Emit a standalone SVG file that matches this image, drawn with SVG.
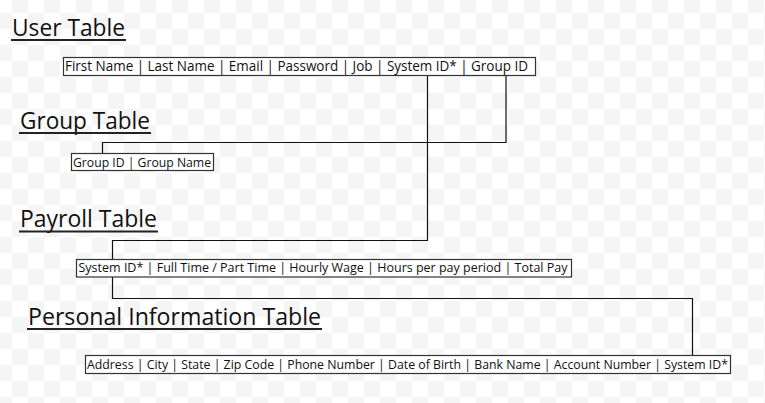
<svg xmlns="http://www.w3.org/2000/svg" width="765" height="403" viewBox="0 0 765 403">
  <defs>
    <pattern id="checker" x="12" y="-3" width="32" height="32" patternUnits="userSpaceOnUse">
      <rect width="32" height="32" fill="#ffffff"/>
      <rect width="16" height="16" fill="#f5f5f5"/>
      <rect x="16" y="16" width="16" height="16" fill="#f5f5f5"/>
    </pattern>
  </defs>
  <style>
    .title { font-family: "Open Sans", "Noto Sans", "DejaVu Sans", sans-serif; font-size: 23px; fill: #111; }
    .uline { stroke: #222; stroke-width: 2; }
    .box { fill: #ffffff; stroke: #333; stroke-width: 1.2; }
    .field { font-family: "Open Sans", "Noto Sans", "DejaVu Sans", sans-serif; fill: #111; }
    .conn { fill: none; stroke: #111; stroke-width: 1.2; }
  </style>
  <rect width="765" height="403" fill="url(#checker)"/>

  <g id="connectors">
    <polyline class="conn" points="427.5,76 427.5,240.5 112.5,240.5 112.5,259"/>
    <polyline class="conn" points="112.5,277 112.5,298.5 692.5,298.5 692.5,355"/>
    <polyline class="conn" points="506,76 506,142.5 102.5,142.5 102.5,153"/>
  </g>

  <g id="user-title">
    <text class="title" x="12" y="36" textLength="113" lengthAdjust="spacingAndGlyphs">User Table</text>
    <line class="uline" x1="11" y1="40" x2="126" y2="40"/>
  </g>
  <g id="user-table">
    <rect class="box" x="63.5" y="57.5" width="472" height="18"/>
    <text class="field" x="65" y="71" font-size="14" textLength="463" lengthAdjust="spacingAndGlyphs">First Name | Last Name | Email | Password | Job | System ID* | Group ID</text>
  </g>

  <g id="group-title">
    <text class="title" x="20" y="129" textLength="130" lengthAdjust="spacingAndGlyphs">Group Table</text>
    <line class="uline" x1="19" y1="133" x2="151" y2="133"/>
  </g>
  <g id="group-table">
    <rect class="box" x="71.5" y="153.5" width="142" height="17"/>
    <text class="field" x="73" y="166.5" font-size="12" textLength="138" lengthAdjust="spacingAndGlyphs">Group ID | Group Name</text>
  </g>

  <g id="payroll-title">
    <text class="title" x="20" y="226.5" textLength="137" lengthAdjust="spacingAndGlyphs">Payroll Table</text>
    <line class="uline" x1="19" y1="231.5" x2="158" y2="231.5"/>
  </g>
  <g id="payroll-table">
    <rect class="box" x="76.5" y="259.5" width="495" height="17.5"/>
    <text class="field" x="78.5" y="272" font-size="13" textLength="489" lengthAdjust="spacingAndGlyphs">System ID* | Full Time / Part Time | Hourly Wage | Hours per pay period | Total Pay</text>
  </g>

  <g id="personal-title">
    <text class="title" x="28" y="325" textLength="293" lengthAdjust="spacingAndGlyphs">Personal Information Table</text>
    <line class="uline" x1="27" y1="329" x2="322" y2="329"/>
  </g>
  <g id="personal-table">
    <rect class="box" x="85.5" y="355.5" width="645" height="18"/>
    <text class="field" x="87" y="368.5" font-size="13" textLength="641" lengthAdjust="spacingAndGlyphs">Address | City | State | Zip Code | Phone Number | Date of Birth | Bank Name | Account Number | System ID*</text>
  </g>
</svg>
